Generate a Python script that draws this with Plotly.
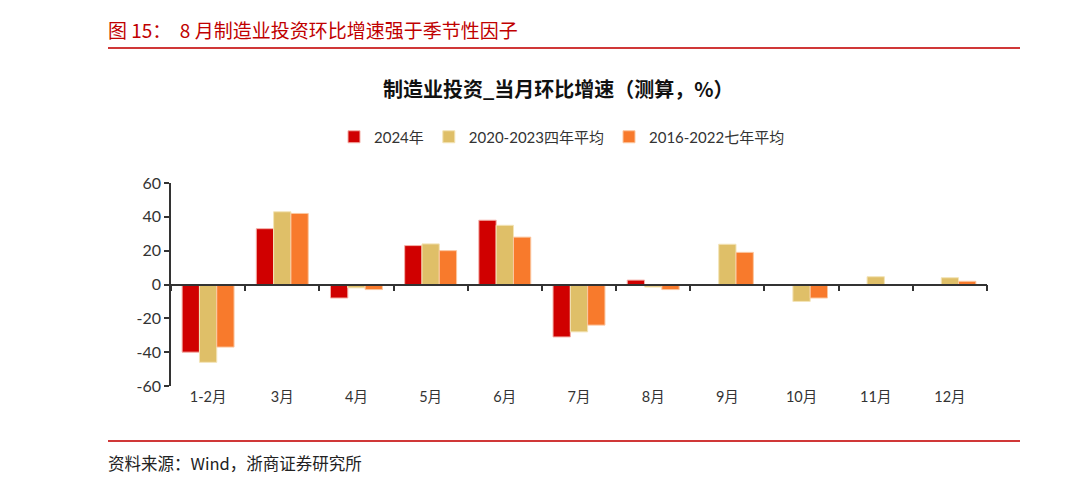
import plotly.graph_objects as go

categories = ["1-2月", "3月", "4月", "5月", "6月", "7月", "8月", "9月", "10月", "11月", "12月"]
s2024 = [-40, 33, -8, 23, 38, -31, 2.6, None, None, None, None]
s4yr = [-46, 43, -2, 24, 35, -28, -1.5, 23.8, -10, 4.6, 4.0]
s7yr = [-37, 42, -3, 20, 28, -24, -3, 19, -8, -0.5, 1.9]
names = ["2024年", "2020-2023四年平均", "2016-2022七年平均"]
colors = ["#D00000", "#DFBF68", "#F87A2C"]
edges = ["#F4B0A8", "#F3E4B8", "#FBC7A0"]
yticks = [-60, -40, -20, 0, 20, 40, 60]
ytext = ["-60", "-40", "-20", "0", "20", "40", "60"]

OFF = 8  # page offset of the plot element
W, H = 1080 - OFF, 480 - OFF
PL, PR, PT, PB = 171, 987, 183, 386  # target plot area in window pixels
L, T = PL - OFF, PT - OFF
PW, PH = PR - PL, PB - PT
R, B = W - L - PW, H - T - PH


def px(x):
    return (x - PL) / PW


def py(y):
    return 1 - (y - PT) / PH


fig = go.Figure()
for name, vals, c, e in zip(names, [s2024, s4yr, s7yr], colors, edges):
    fig.add_trace(go.Bar(x=categories, y=vals, name=name, marker=dict(color=c, line=dict(color=e, width=1))))

# invisible trace to host the zero-line axis
fig.add_trace(go.Scatter(x=categories, y=[0] * len(categories), xaxis="x2", mode="none",
                         showlegend=False, hoverinfo="skip"))

font_cjk = "Noto Sans CJK SC"
font_num = "Lato, Noto Sans CJK SC"
fig.update_layout(
    width=W, height=H,
    margin=dict(l=L, r=R, t=T, b=B),
    paper_bgcolor="white", plot_bgcolor="white",
    barmode="group", bargap=0.3, bargroupgap=0.0,
    font=dict(family=font_num, color="#333333", size=14),
    xaxis=dict(type="category", showline=False, ticks="", showgrid=False, zeroline=False,
               tickfont=dict(size=14.5, color="#333333", family=font_num)),
    xaxis2=dict(type="category", overlaying="x", matches="x", anchor="free", position=0.5,
                side="bottom", showline=True, linecolor="#333333", linewidth=1.5,
                ticks="outside", tickson="boundaries", ticklen=6, tickwidth=1.5, tickcolor="#333333",
                showticklabels=False, showgrid=False, zeroline=False),
    yaxis=dict(range=[-60, 60], tickvals=yticks, ticktext=ytext, showline=True, linecolor="#333333",
               linewidth=1.5, ticks="outside", ticklen=5, tickwidth=1.5, tickcolor="#333333",
               showgrid=False, zeroline=False, tickfont=dict(size=16, color="#333333", family=font_num)),
    legend=dict(orientation="h", x=px(562), xanchor="center", y=(H - (137 - OFF)) / H, yanchor="middle",
                yref="container", font=dict(size=15, color="#333333", family=font_num),
                traceorder="normal", itemclick=False, itemwidth=30),
    showlegend=True,
)

fig.add_annotation(text="<b>制造业投资_当月环比增速（测算，%）</b>", xref="paper", yref="paper",
                   x=px(558), xanchor="center", y=py(89), yanchor="middle", showarrow=False,
                   font=dict(size=20, color="#111111", family=font_cjk))
fig.add_annotation(text="图 15：  8 月制造业投资环比增速强于季节性因子", xref="paper", yref="paper",
                   x=px(106), xanchor="left", y=py(29), yanchor="middle",
                   showarrow=False, font=dict(size=19, color="#C00000", family=font_cjk))
fig.add_annotation(text="资料来源：Wind，浙商证券研究所", xref="paper", yref="paper",
                   x=px(106), xanchor="left", y=py(463), yanchor="middle",
                   showarrow=False, font=dict(size=16.5, color="#222222", family=font_cjk))

for yy in [48, 441]:
    fig.add_shape(type="line", xref="paper", yref="paper",
                  x0=px(108), x1=px(1020), y0=py(yy), y1=py(yy),
                  line=dict(color="#D03838", width=2))

fig.write_html("out.html")
